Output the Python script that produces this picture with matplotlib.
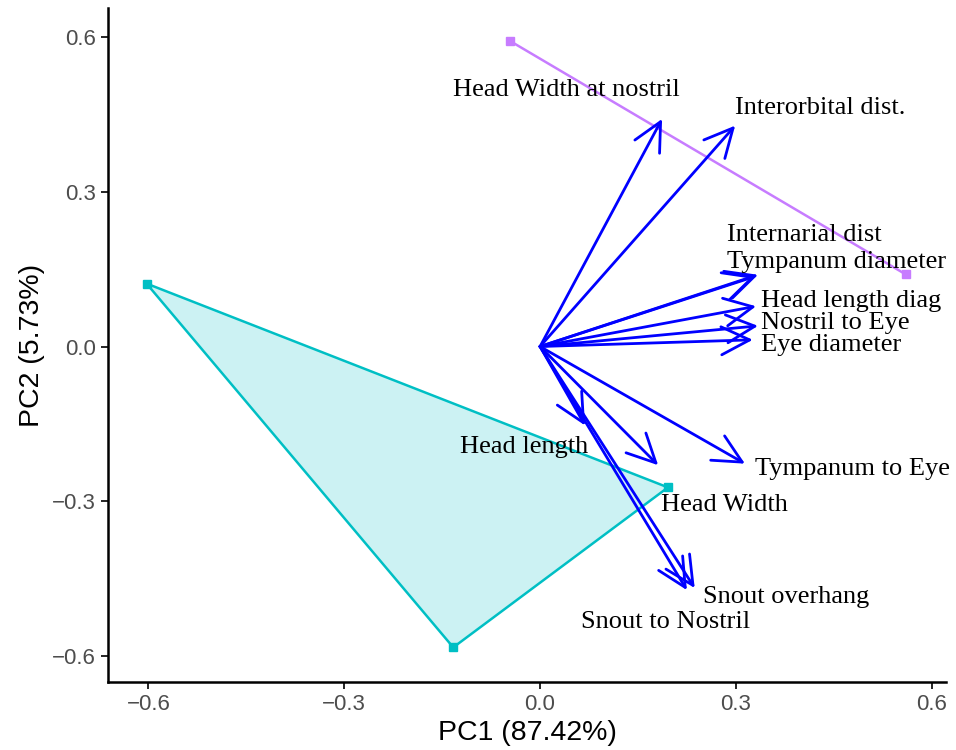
import numpy as np
import matplotlib.pyplot as plt

# group hulls (PC1, PC2)
grp_a_x = [-0.603, 0.196, -0.133]
grp_a_y = [0.122, -0.273, -0.583]
grp_b_x = [-0.046, 0.560]
grp_b_y = [0.592, 0.140]

# variable loadings (arrow tips)
var_names = ["Head Width at nostril", "Interorbital dist.", "Internarial dist",
             "Tympanum diameter", "Head length diag", "Nostril to Eye",
             "Eye diameter", "Tympanum to Eye", "Head Width", "Head length",
             "Snout overhang", "Snout to Nostril"]
var_x = [0.187, 0.299, 0.330, 0.334, 0.331, 0.334, 0.326, 0.314, 0.181, 0.069, 0.237, 0.225]
var_y = [0.441, 0.428, 0.136, 0.139, 0.078, 0.040, 0.013, -0.227, -0.230, -0.153, -0.468, -0.472]

# label positions
lab_x = [0.040, 0.299, 0.287, 0.287, 0.338, 0.338, 0.338, 0.329, 0.185, -0.025, 0.250, 0.193]
lab_y = [0.497, 0.463, 0.217, 0.163, 0.089, 0.046, 0.002, -0.238, -0.308, -0.195, -0.486, -0.534]
lab_ha = ["center", "left", "left", "left", "left", "left", "left", "left", "left",
          "center", "left", "center"]

teal = "#00BFC4"
purple = "#C77CFF"

fig = plt.figure(figsize=(9.56, 7.5), dpi=100)
ax = fig.add_axes([0.113, 0.0907, 0.8765, 0.898])

ax.fill(grp_a_x, grp_a_y, facecolor=teal, alpha=0.2, edgecolor="none")
ax.plot(grp_a_x + grp_a_x[:1], grp_a_y + grp_a_y[:1], color=teal, lw=1.8)
ax.plot(grp_a_x, grp_a_y, "s", color=teal, ms=6)
ax.plot(grp_b_x, grp_b_y, color=purple, lw=1.8)
ax.plot(grp_b_x, grp_b_y, "s", color=purple, ms=6)

for x, y in zip(var_x, var_y):
    ax.annotate("", xy=(x, y), xytext=(0, 0),
                arrowprops=dict(arrowstyle="->,head_length=0.85,head_width=0.42",
                                color="#0000FF", lw=2, mutation_scale=24,
                                shrinkA=0, shrinkB=0))

for name, x, y, ha in zip(var_names, lab_x, lab_y, lab_ha):
    ax.text(x, y, name, ha=ha, va="center", fontsize=19,
            family="Liberation Serif", color="black")

ax.set_xlim(-0.662, 0.622)
ax.set_ylim(-0.650, 0.655)
ax.set_xticks([-0.6, -0.3, 0.0, 0.3, 0.6])
ax.set_yticks([-0.6, -0.3, 0.0, 0.3, 0.6])
ax.set_xticklabels(["\u22120.6", "\u22120.3", "0.0", "0.3", "0.6"])
ax.set_yticklabels(["\u22120.6", "\u22120.3", "0.0", "0.3", "0.6"])
for s in ["top", "right"]:
    ax.spines[s].set_visible(False)
for s in ["left", "bottom"]:
    ax.spines[s].set_linewidth(1.8)
ax.tick_params(length=5, width=1.2, labelsize=16, labelcolor="#4D4D4D",
               pad=4)
for lab in ax.get_xticklabels() + ax.get_yticklabels():
    lab.set_family("Liberation Sans")
ax.set_xlabel("PC1 (87.42%)", fontsize=20.5, family="Liberation Sans", labelpad=3)
ax.set_ylabel("PC2 (5.73%)", fontsize=20.5, family="Liberation Sans", labelpad=5)

fig.savefig("out.png", dpi=100)
